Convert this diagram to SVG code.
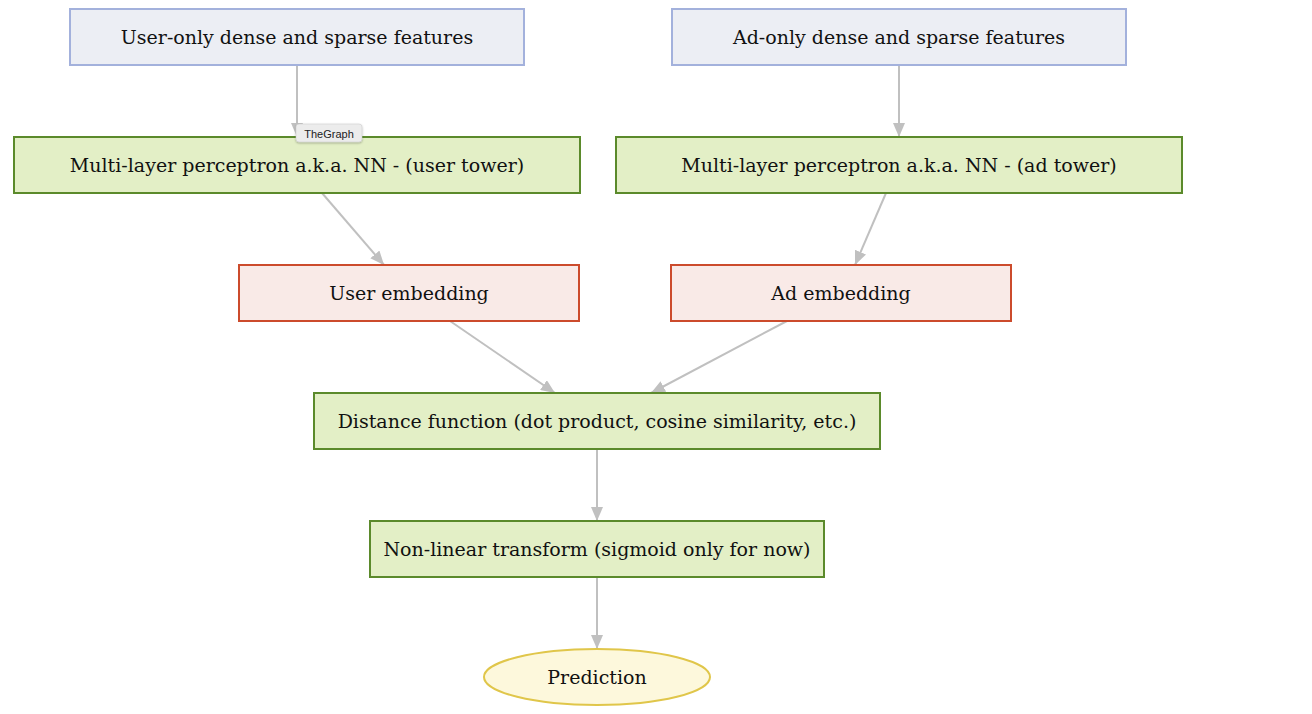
<svg xmlns="http://www.w3.org/2000/svg" width="1312" height="714" viewBox="0 0 1312 714">
<style>
  .t { font-family: "DejaVu Serif", "Liberation Serif", serif; font-size: 19px; fill: #111; text-anchor: middle; dominant-baseline: central; }
  .in rect { fill: #eceef4; stroke: #a3b1dc; stroke-width: 2; }
  .g rect { fill: #e3efc6; stroke: #5b8a2b; stroke-width: 2; }
  .r rect { fill: #f9eae7; stroke: #cc4b2c; stroke-width: 2; }
  .edges line { stroke: #c0c0c0; stroke-width: 2; marker-end: url(#ah); }
</style>
<defs>
  <marker id="ah" viewBox="0 0 14 12" refX="14" refY="6" markerWidth="14" markerHeight="12" markerUnits="userSpaceOnUse" orient="auto">
    <path d="M0,0 L14,6 L0,12 Z" fill="#c0c0c0"/>
  </marker>
  <filter id="sh" x="-20%" y="-30%" width="140%" height="170%">
    <feDropShadow dx="0" dy="1" stdDeviation="1" flood-color="#000" flood-opacity="0.3"/>
  </filter>
</defs>
<rect width="1312" height="714" fill="#fff"/>
<g class="edges">
  <line x1="297" y1="65" x2="297" y2="137"/>
  <line x1="899" y1="65" x2="899" y2="137"/>
  <line x1="322" y1="193" x2="384" y2="265"/>
  <line x1="886" y1="193" x2="855" y2="265"/>
  <line x1="450" y1="321" x2="555" y2="393"/>
  <line x1="787" y1="321" x2="651" y2="393"/>
  <line x1="597" y1="449" x2="597" y2="521"/>
  <line x1="597" y1="577" x2="597" y2="649"/>
</g>
<g id="user-features" class="in"><rect x="70" y="9" width="454" height="56"/><text class="t" x="297" y="37">User-only dense and sparse features</text></g>
<g id="ad-features" class="in"><rect x="672" y="9" width="454" height="56"/><text class="t" x="899" y="37">Ad-only dense and sparse features</text></g>
<g id="user-tower" class="g"><rect x="14" y="137" width="566" height="56"/><text class="t" x="297" y="165">Multi-layer perceptron a.k.a. NN - (user tower)</text></g>
<g id="ad-tower" class="g"><rect x="616" y="137" width="566" height="56"/><text class="t" x="899" y="165">Multi-layer perceptron a.k.a. NN - (ad tower)</text></g>
<g id="user-embedding" class="r"><rect x="239" y="265" width="340" height="56"/><text class="t" x="409" y="293">User embedding</text></g>
<g id="ad-embedding" class="r"><rect x="671" y="265" width="340" height="56"/><text class="t" x="841" y="293">Ad embedding</text></g>
<g id="distance" class="g"><rect x="314" y="393" width="566" height="56"/><text class="t" x="597" y="421">Distance function (dot product, cosine similarity, etc.)</text></g>
<g id="nonlinear" class="g"><rect x="370" y="521" width="454" height="56"/><text class="t" x="597" y="549">Non-linear transform (sigmoid only for now)</text></g>
<g id="prediction"><ellipse cx="597" cy="677" rx="113" ry="28" fill="#fdf8dc" stroke="#e0c64a" stroke-width="2"/><text class="t" x="597" y="677">Prediction</text></g>
<g id="tooltip">
  <rect x="296" y="124" width="66" height="18" rx="3" fill="#ececec" stroke="#c8c8c8" stroke-width="0.5" filter="url(#sh)"/>
  <text x="329" y="133.5" font-family="'Liberation Sans', Arial, sans-serif" font-size="11" fill="#222" text-anchor="middle" dominant-baseline="central">TheGraph</text>
</g>
</svg>
